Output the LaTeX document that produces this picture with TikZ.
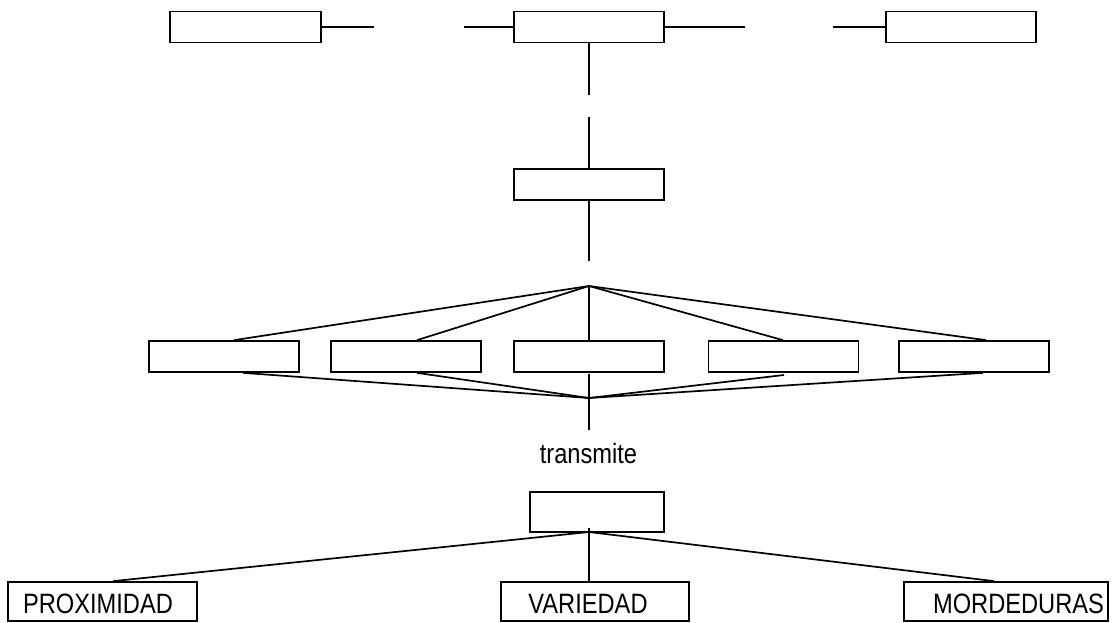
\documentclass[tikz,border=0pt]{standalone}
\usepackage{fontspec}
\setmainfont{Liberation Sans}
\newfontfamily\narrowfont[FakeStretch=0.845]{Liberation Sans}
\begin{document}
\begin{tikzpicture}[x=1pt,y=-1pt,
  ln/.style={line width=1.7pt},
  thin ln/.style={line width=1.3pt},
  emptybox/.style={draw,line width=1.7pt,inner sep=0pt,minimum width=150pt,minimum height=31pt},
  lowbox/.style={draw,line width=1.7pt,inner sep=0pt,minimum height=39pt},
  txt/.style={inner sep=0pt,anchor=base,font=\narrowfont\fontsize{28pt}{30pt}\selectfont}]
\useasboundingbox[fill=white] (0,0) rectangle (1112,622);
% top row
\node[emptybox,minimum width=151pt] (a) at (245.5,27) {};
\node[emptybox] (b) at (589,27) {};
\node[emptybox] (c) at (961,27) {};
\coordinate (a1) at (374,27);
\coordinate (b0) at (464,27);
\coordinate (b1) at (745,27);
\coordinate (c0) at (833,27);
\draw[ln] (a.east) -- (a1);
\draw[ln] (b0) -- (b.west);
\draw[ln] (b.east) -- (b1);
\draw[ln] (c0) -- (c.west);
% second level
\node[emptybox] (d) at (589,184.5) {};
\coordinate (bdown) at (589,95);
\coordinate (dup) at (589,117);
\draw[ln] (b.south) -- (bdown);
\draw[ln] (dup) -- (d.north);
\coordinate (ddown) at (589,261);
\draw[ln] (d.south) -- (ddown);
% fan
\coordinate (apex) at (589,286);
\node[emptybox] (m1) at (224,356.5) {};
\node[emptybox] (m2) at (406,356.5) {};
\node[emptybox] (m3) at (589,356.5) {};
\node[emptybox] (m4) at (783.5,356.5) {};
\node[emptybox] (m5) at (974,356.5) {};
\draw[ln] (apex) -- ([xshift=10pt]m1.north);
\draw[ln] (apex) -- ([xshift=11pt]m2.north);
\draw[thin ln] (apex) -- (m3.north);
\draw[ln] (apex) -- ([xshift=-0.5pt]m4.north);
\draw[ln] (apex) -- ([xshift=12pt]m5.north);
\coordinate (conv) at (589,398);
\coordinate (m4end) at (784,375);
\draw[ln] ([xshift=19pt]m1.south) -- (conv);
\draw[ln] ([xshift=11pt]m2.south) -- (conv);
\draw[ln] (m4end) -- (conv);
\draw[ln] ([xshift=9pt]m5.south) -- (conv);
\coordinate (m3below) at (589,374);
\coordinate (vend) at (589,430);
\draw[thin ln] (m3below) -- (vend);
% transmite
\node[txt] (tr) at (588.5,463) {transmite};
\node[lowbox,minimum width=134pt,minimum height=40pt] (t) at (597,512) {};
% bottom
\node[lowbox,minimum width=189pt] (p) at (102.5,601.5) {};
\node[lowbox,minimum width=188pt] (v) at (595,601.5) {};
\node[lowbox,minimum width=204pt] (mo) at (1006,601.5) {};
\node[txt] (pt) at (98,613) {PROXIMIDAD};
\node[txt] (vt) at (588,613) {VARIEDAD};
\node[txt] (mt) at (1018.5,613) {MORDEDURAS};
\coordinate (tbot) at (589,532);
\coordinate (tin) at (589,528);
\draw[ln] (tbot) -- ([xshift=10.5pt]p.north);
\draw[thin ln] (tin) -- ([xshift=-6pt]v.north);
\draw[ln] (tbot) -- ([xshift=-12pt]mo.north);
\end{tikzpicture}
\end{document}
